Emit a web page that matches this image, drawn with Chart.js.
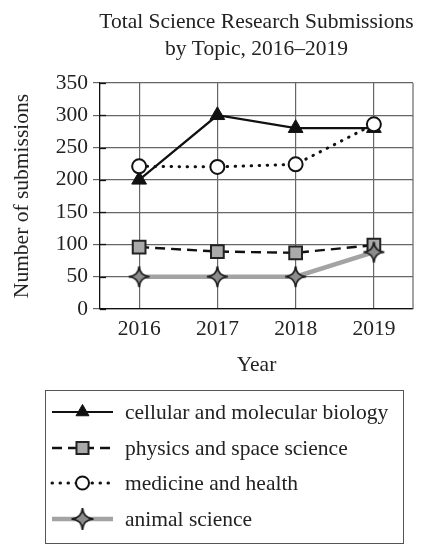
<!DOCTYPE html>
<html>
<head>
<meta charset="utf-8">
<script src="https://cdn.jsdelivr.net/npm/chart.js@4"></script>
<style>
html,body{margin:0;padding:0;background:#fff;}
#wrap{width:426px;height:555px;position:relative;}
</style>
</head>
<body>
<div id="wrap"><canvas id="c"></canvas></div>
<script>
const titleLines = ['Total Science Research Submissions', 'by Topic, 2016\u20132019'];
const years = ['2016', '2017', '2018', '2019'];
const seriesNames = ['cellular and molecular biology', 'physics and space science', 'medicine and health', 'animal science'];
const cellular = [200, 300, 280, 280];
const physics = [96, 89, 87, 99];
const medicine = [221, 220, 224, 286];
const animal = [50, 50, 50, 88];
const yMin = 0, yMax = 350, yStep = 50;
const xTitle = 'Year';
const yTitle = 'Number of submissions';

const FONT = '"Liberation Serif", "Times New Roman", serif';
const FS = 21.5;

function makeStar(r) {
  const s = Math.ceil(2 * r + 4);
  const c = document.createElement('canvas');
  c.width = s; c.height = s;
  const g = c.getContext('2d');
  const cx = s / 2, cy = s / 2, rc = r * 0.1;
  g.beginPath();
  for (let i = 0; i < 4; i++) {
    const a = -Math.PI / 2 + i * Math.PI / 2;
    const am = a + Math.PI / 4;
    const an = a + Math.PI / 2;
    if (i === 0) g.moveTo(cx + r * Math.cos(a), cy + r * Math.sin(a));
    g.quadraticCurveTo(cx + rc * Math.cos(am), cy + rc * Math.sin(am), cx + r * Math.cos(an), cy + r * Math.sin(an));
  }
  g.closePath();
  g.fillStyle = '#8c8c8c';
  g.fill();
  g.lineWidth = 1.7;
  g.lineJoin = 'miter';
  g.strokeStyle = '#1a1a1a';
  g.stroke();
  return c;
}
const starChart = makeStar(10.5);
const starLegend = makeStar(11);

const styles = [
  {line: '#111', width: 2.2, dash: [], cap: 'butt', pointStyle: 'triangle', radius: 8.5, fill: '#111', border: '#111', bw: 1, lr: 7.5},
  {line: '#111', width: 2.4, dash: [10, 6], cap: 'butt', pointStyle: 'rect', radius: 9, fill: '#aaaaaa', border: '#222', bw: 2, lr: 8.5},
  {line: '#111', width: 3, dash: [0.5, 7.5], cap: 'round', pointStyle: 'circle', radius: 7, fill: '#fff', border: '#111', bw: 2, lr: 6.5},
  {line: '#a3a3a3', width: 4.5, dash: [], cap: 'butt', pointStyle: starChart, radius: 10, fill: '#8c8c8c', border: '#1a1a1a', bw: 0, lr: 10, legendStyle: starLegend}
];
const seriesData = [cellular, physics, medicine, animal];

const datasets = seriesData.map((d, i) => {
  const s = styles[i];
  return {
    label: seriesNames[i],
    data: d,
    borderColor: s.line,
    borderWidth: s.width,
    borderDash: s.dash,
    borderCapStyle: s.cap,
    pointStyle: s.pointStyle,
    pointRadius: s.radius,
    pointHoverRadius: s.radius,
    pointBackgroundColor: s.fill,
    pointBorderColor: s.border,
    pointBorderWidth: s.bw,
    tension: 0,
    order: 4 - i
  };
});

const titlePlugin = {
  id: 'customTitle',
  afterDraw(chart) {
    const {ctx, chartArea} = chart;
    ctx.save();
    ctx.font = FS + 'px ' + FONT;
    ctx.fillStyle = '#222';
    ctx.textAlign = 'center';
    ctx.textBaseline = 'alphabetic';
    const cx = (chartArea.left + chartArea.right) / 2;
    ctx.fillText(titleLines[0], cx, 28);
    ctx.fillText(titleLines[1], cx, 55);
    ctx.restore();
  }
};

const framePlugin = {
  id: 'frame',
  beforeDatasetsDraw(chart) {
    const {ctx, chartArea} = chart;
    ctx.save();
    ctx.strokeStyle = '#666';
    ctx.lineWidth = 1.2;
    ctx.beginPath();
    ctx.moveTo(chartArea.right, chartArea.top);
    ctx.lineTo(chartArea.right, chartArea.bottom);
    ctx.stroke();
    const ys = chart.scales.y;
    ctx.strokeStyle = '#111';
    ctx.lineWidth = 1.3;
    ys.ticks.forEach(t => {
      const y = Math.round(ys.getPixelForValue(t.value)) + 0.5;
      ctx.beginPath();
      ctx.moveTo(chartArea.left, y);
      ctx.lineTo(chartArea.left + 6, y);
      ctx.stroke();
    });
    ctx.restore();
  }
};

const legendPlugin = {
  id: 'customLegend',
  afterDraw(chart) {
    const {ctx} = chart;
    const bx = 45.5, by = 390.5, bw = 358, bh = 153;
    ctx.save();
    ctx.strokeStyle = '#555';
    ctx.lineWidth = 1;
    ctx.strokeRect(bx, by, bw, bh);
    const rowY = [412, 448, 483, 519];
    const x0 = 52, x1 = 113, xm = 82.5;
    seriesNames.forEach((name, i) => {
      const s = styles[i];
      const y = rowY[i];
      ctx.save();
      ctx.strokeStyle = s.line;
      ctx.lineWidth = s.width;
      ctx.lineCap = s.cap;
      ctx.setLineDash(s.dash);
      ctx.beginPath();
      ctx.moveTo(x0, y);
      ctx.lineTo(x1, y);
      ctx.stroke();
      ctx.restore();
      ctx.save();
      ctx.fillStyle = s.fill;
      ctx.strokeStyle = s.border;
      ctx.lineWidth = s.bw;
      Chart.helpers.drawPoint(ctx, {
        pointStyle: s.legendStyle || s.pointStyle,
        radius: s.lr,
        rotation: 0,
        borderWidth: s.bw
      }, xm, y);
      ctx.restore();
      ctx.fillStyle = '#222';
      ctx.font = FS + 'px ' + FONT;
      ctx.textAlign = 'left';
      ctx.textBaseline = 'middle';
      ctx.fillText(name, 125, y + 1);
    });
    ctx.restore();
  }
};

new Chart(document.getElementById('c'), {
  type: 'line',
  data: {labels: years, datasets: datasets},
  plugins: [framePlugin, titlePlugin, legendPlugin],
  options: {
    responsive: true,
    maintainAspectRatio: false,
    animation: false,
    events: [],
    layout: {padding: {top: 83, right: 13, bottom: 176, left: 0}},
    plugins: {legend: {display: false}, title: {display: false}, tooltip: {enabled: false}},
    scales: {
      x: {
        offset: true,
        afterFit(s) { s.height = 70; },
        grid: {color: '#666', lineWidth: 1.2, drawTicks: false, offset: false},
        border: {color: '#111', width: 1.2},
        ticks: {color: '#222', padding: 7, font: {family: FONT, size: FS}},
        title: {display: true, text: xTitle, color: '#222', font: {family: FONT, size: FS}, padding: {top: 0, bottom: 1}}
      },
      y: {
        min: yMin, max: yMax,
        afterFit(s) { s.width = 100; },
        grid: {color: '#666', lineWidth: 1.2, drawTicks: true, tickLength: 7},
        border: {color: '#111', width: 1.3},
        ticks: {stepSize: yStep, color: '#222', padding: 5, font: {family: FONT, size: FS}},
        title: {display: true, text: yTitle, color: '#222', font: {family: FONT, size: FS}, padding: {top: 9, bottom: 0}}
      }
    }
  }
});
</script>
</body>
</html>
